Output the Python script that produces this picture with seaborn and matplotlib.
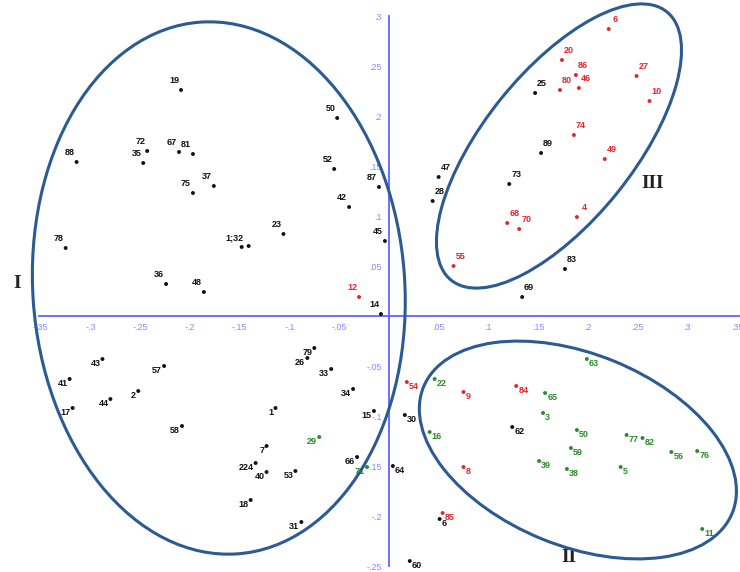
import numpy as np
import pandas as pd
import matplotlib
matplotlib.use("Agg")
import matplotlib.pyplot as plt
from matplotlib.patches import Ellipse
from matplotlib.ticker import MultipleLocator, FuncFormatter
import seaborn as sns

# --- data ---
labels = ["19", "88", "72", "35", "67", "81", "75", "37", "50", "52",
          "87", "42", "23", "1;32", "", "78", "36", "48", "45", "14", "12",
          "47", "28", "6", "20", "86", "80", "46", "25", "27", "10",
          "74", "89", "49", "73", "68", "70", "4", "55", "83", "69",
          "43", "41", "57", "2", "44", "17", "58", "79", "26", "33",
          "34", "1", "15", "29", "7", "224", "40", "53", "18", "31", "66", "71",
          "64", "30", "54", "22", "16", "9", "8", "85", "6", "60",
          "63", "84", "65", "3", "62", "50", "59", "39", "38", "5",
          "77", "82", "56", "76", "11"]
xs = [-0.209, -0.314, -0.243, -0.247, -0.211, -0.197, -0.197, -0.176, -0.052, -0.055,
      -0.010, -0.040, -0.106, -0.148, -0.141, -0.325, -0.224, -0.186, -0.004, -0.008, -0.030,
      0.050, 0.044, 0.221, 0.174, 0.188, 0.172, 0.191, 0.147, 0.249, 0.262,
      0.186, 0.153, 0.217, 0.121, 0.119, 0.131, 0.189, 0.065, 0.177, 0.134,
      -0.288, -0.321, -0.226, -0.252, -0.280, -0.318, -0.208, -0.075, -0.082, -0.058,
      -0.036, -0.114, -0.015, -0.070, -0.123, -0.134, -0.123, -0.094, -0.139, -0.088, -0.032, -0.022,
      0.004, 0.016, 0.018, 0.046, 0.041, 0.075, 0.075, 0.054, 0.051, 0.021,
      0.199, 0.128, 0.157, 0.155, 0.124, 0.189, 0.183, 0.151, 0.179, 0.233,
      0.239, 0.255, 0.284, 0.310, 0.315]
ys = [0.226, 0.154, 0.165, 0.153, 0.164, 0.162, 0.123, 0.130, 0.198, 0.147,
      0.129, 0.109, 0.082, 0.069, 0.070, 0.068, 0.032, 0.024, 0.075, 0.002, 0.019,
      0.139, 0.115, 0.287, 0.256, 0.241, 0.226, 0.228, 0.223, 0.240, 0.215,
      0.181, 0.163, 0.157, 0.132, 0.093, 0.087, 0.099, 0.050, 0.047, 0.019,
      -0.043, -0.063, -0.050, -0.075, -0.083, -0.092, -0.110, -0.032, -0.042, -0.053,
      -0.073, -0.092, -0.095, -0.121, -0.130, -0.147, -0.156, -0.155, -0.184, -0.206, -0.141, -0.151,
      -0.150, -0.099, -0.066, -0.063, -0.116, -0.076, -0.151, -0.197, -0.203, -0.245,
      -0.043, -0.070, -0.077, -0.097, -0.111, -0.114, -0.132, -0.145, -0.153, -0.151,
      -0.119, -0.122, -0.136, -0.135, -0.213]
groups = (["k"] * 20 + ["r"]
          + ["k", "k", "r", "r", "r", "r", "r", "k", "r", "r",
             "r", "k", "r", "k", "r", "r", "r", "r", "k", "k"]
          + ["k"] * 13 + ["g"] + ["k"] * 7 + ["g"]
          + ["k", "k", "r", "g", "g", "r", "r", "r", "k", "k"]
          + ["g", "r", "g", "g", "k", "g", "g", "g", "g", "g",
             "g", "g", "g", "g", "g"])

# cluster ellipses: centre x, centre y, width, height, angle
ell_cx = [-0.171, 0.171, 0.190]
ell_cy = [0.028, 0.170, -0.134]
ell_w = [0.374, 0.345, 0.335]
ell_h = [0.533, 0.150, 0.192]
ell_ang = [4, 51, -22]
cluster_names = ["I", "III", "II"]
cluster_x = [-0.374, 0.265, 0.181]
cluster_y = [0.033, 0.133, -0.241]

df = pd.DataFrame({"label": labels, "x": xs, "y": ys, "group": groups})

palette = {"k": "#111111", "r": "#e3262b", "g": "#2b8a2b"}
axis_col = "#6262ff"

sns.set_style("white")
plt.rcParams["font.family"] = ["Liberation Sans", "DejaVu Sans"]

fig = plt.figure(figsize=(7.4, 5.72), dpi=100)
ax = fig.add_axes([0, 0, 1, 1])

sns.scatterplot(data=df, x="x", y="y", hue="group", palette=palette,
                s=8, linewidth=0, legend=False, ax=ax, zorder=3)

for _, row in df.iterrows():
    if row["label"] == "":
        continue
    col = palette[row["group"]]
    if row["y"] > 0:
        dx = 5 if row["x"] > 0 else -5
        ax.annotate(row["label"], (row["x"], row["y"]), xytext=(dx, 6.5),
                    textcoords="offset points", ha="center", va="center",
                    fontsize=6.5, fontweight="bold", color=col)
    else:
        if row["x"] > 0:
            ax.annotate(row["label"], (row["x"], row["y"]), xytext=(1.5, -3),
                        textcoords="offset points", ha="left", va="center",
                        fontsize=6.5, fontweight="bold", color=col)
        else:
            ax.annotate(row["label"], (row["x"], row["y"]), xytext=(-1.5, -3),
                        textcoords="offset points", ha="right", va="center",
                        fontsize=6.5, fontweight="bold", color=col)

for cx, cy, w, h, a in zip(ell_cx, ell_cy, ell_w, ell_h, ell_ang):
    ax.add_patch(Ellipse((cx, cy), w, h, angle=a, fill=False,
                         edgecolor="#2c5b93", linewidth=2.2, zorder=4))

for name, tx, ty in zip(cluster_names, cluster_x, cluster_y):
    ax.text(tx, ty, name, fontsize=14, fontweight="bold", color="#222222",
            family="Liberation Serif", ha="center", va="center")

# axes crossing at the origin
ax.set_xlim(-0.391, 0.353)
ax.set_ylim(-0.256, 0.316)
for side in ["top", "right"]:
    ax.spines[side].set_visible(False)
ax.spines["left"].set_position(("data", 0))
ax.spines["bottom"].set_position(("data", 0))
ax.spines["left"].set_bounds(-0.25, 0.3)
ax.spines["bottom"].set_bounds(-0.352, 0.352)
for side in ["left", "bottom"]:
    ax.spines[side].set_color(axis_col)
    ax.spines[side].set_linewidth(1.3)
    ax.spines[side].set_zorder(2)

ax.xaxis.set_major_locator(MultipleLocator(0.05))
ax.xaxis.set_minor_locator(MultipleLocator(0.025))
ax.yaxis.set_major_locator(MultipleLocator(0.05))
ax.yaxis.set_minor_locator(MultipleLocator(0.025))


def fmt(v, pos):
    if abs(v) < 1e-9:
        return ""
    s = f"{v:.2f}".rstrip("0")
    return s.replace("0.", ".")


ax.xaxis.set_major_formatter(FuncFormatter(fmt))
ax.yaxis.set_major_formatter(FuncFormatter(fmt))
ax.tick_params(which="major", direction="inout", length=6, width=1.2,
               color=axis_col, labelcolor="#8a8aff", labelsize=6.5, pad=2)
ax.tick_params(which="minor", direction="inout", length=4, width=1.0,
               color=axis_col)
ax.set_xticks([t for t in np.arange(-0.35, 0.351, 0.05) if abs(t) > 1e-9])
ax.set_yticks([t for t in np.arange(-0.25, 0.301, 0.05) if abs(t) > 1e-9])
ax.set_xlabel("")
ax.set_ylabel("")

fig.savefig("out.png", dpi=100)
